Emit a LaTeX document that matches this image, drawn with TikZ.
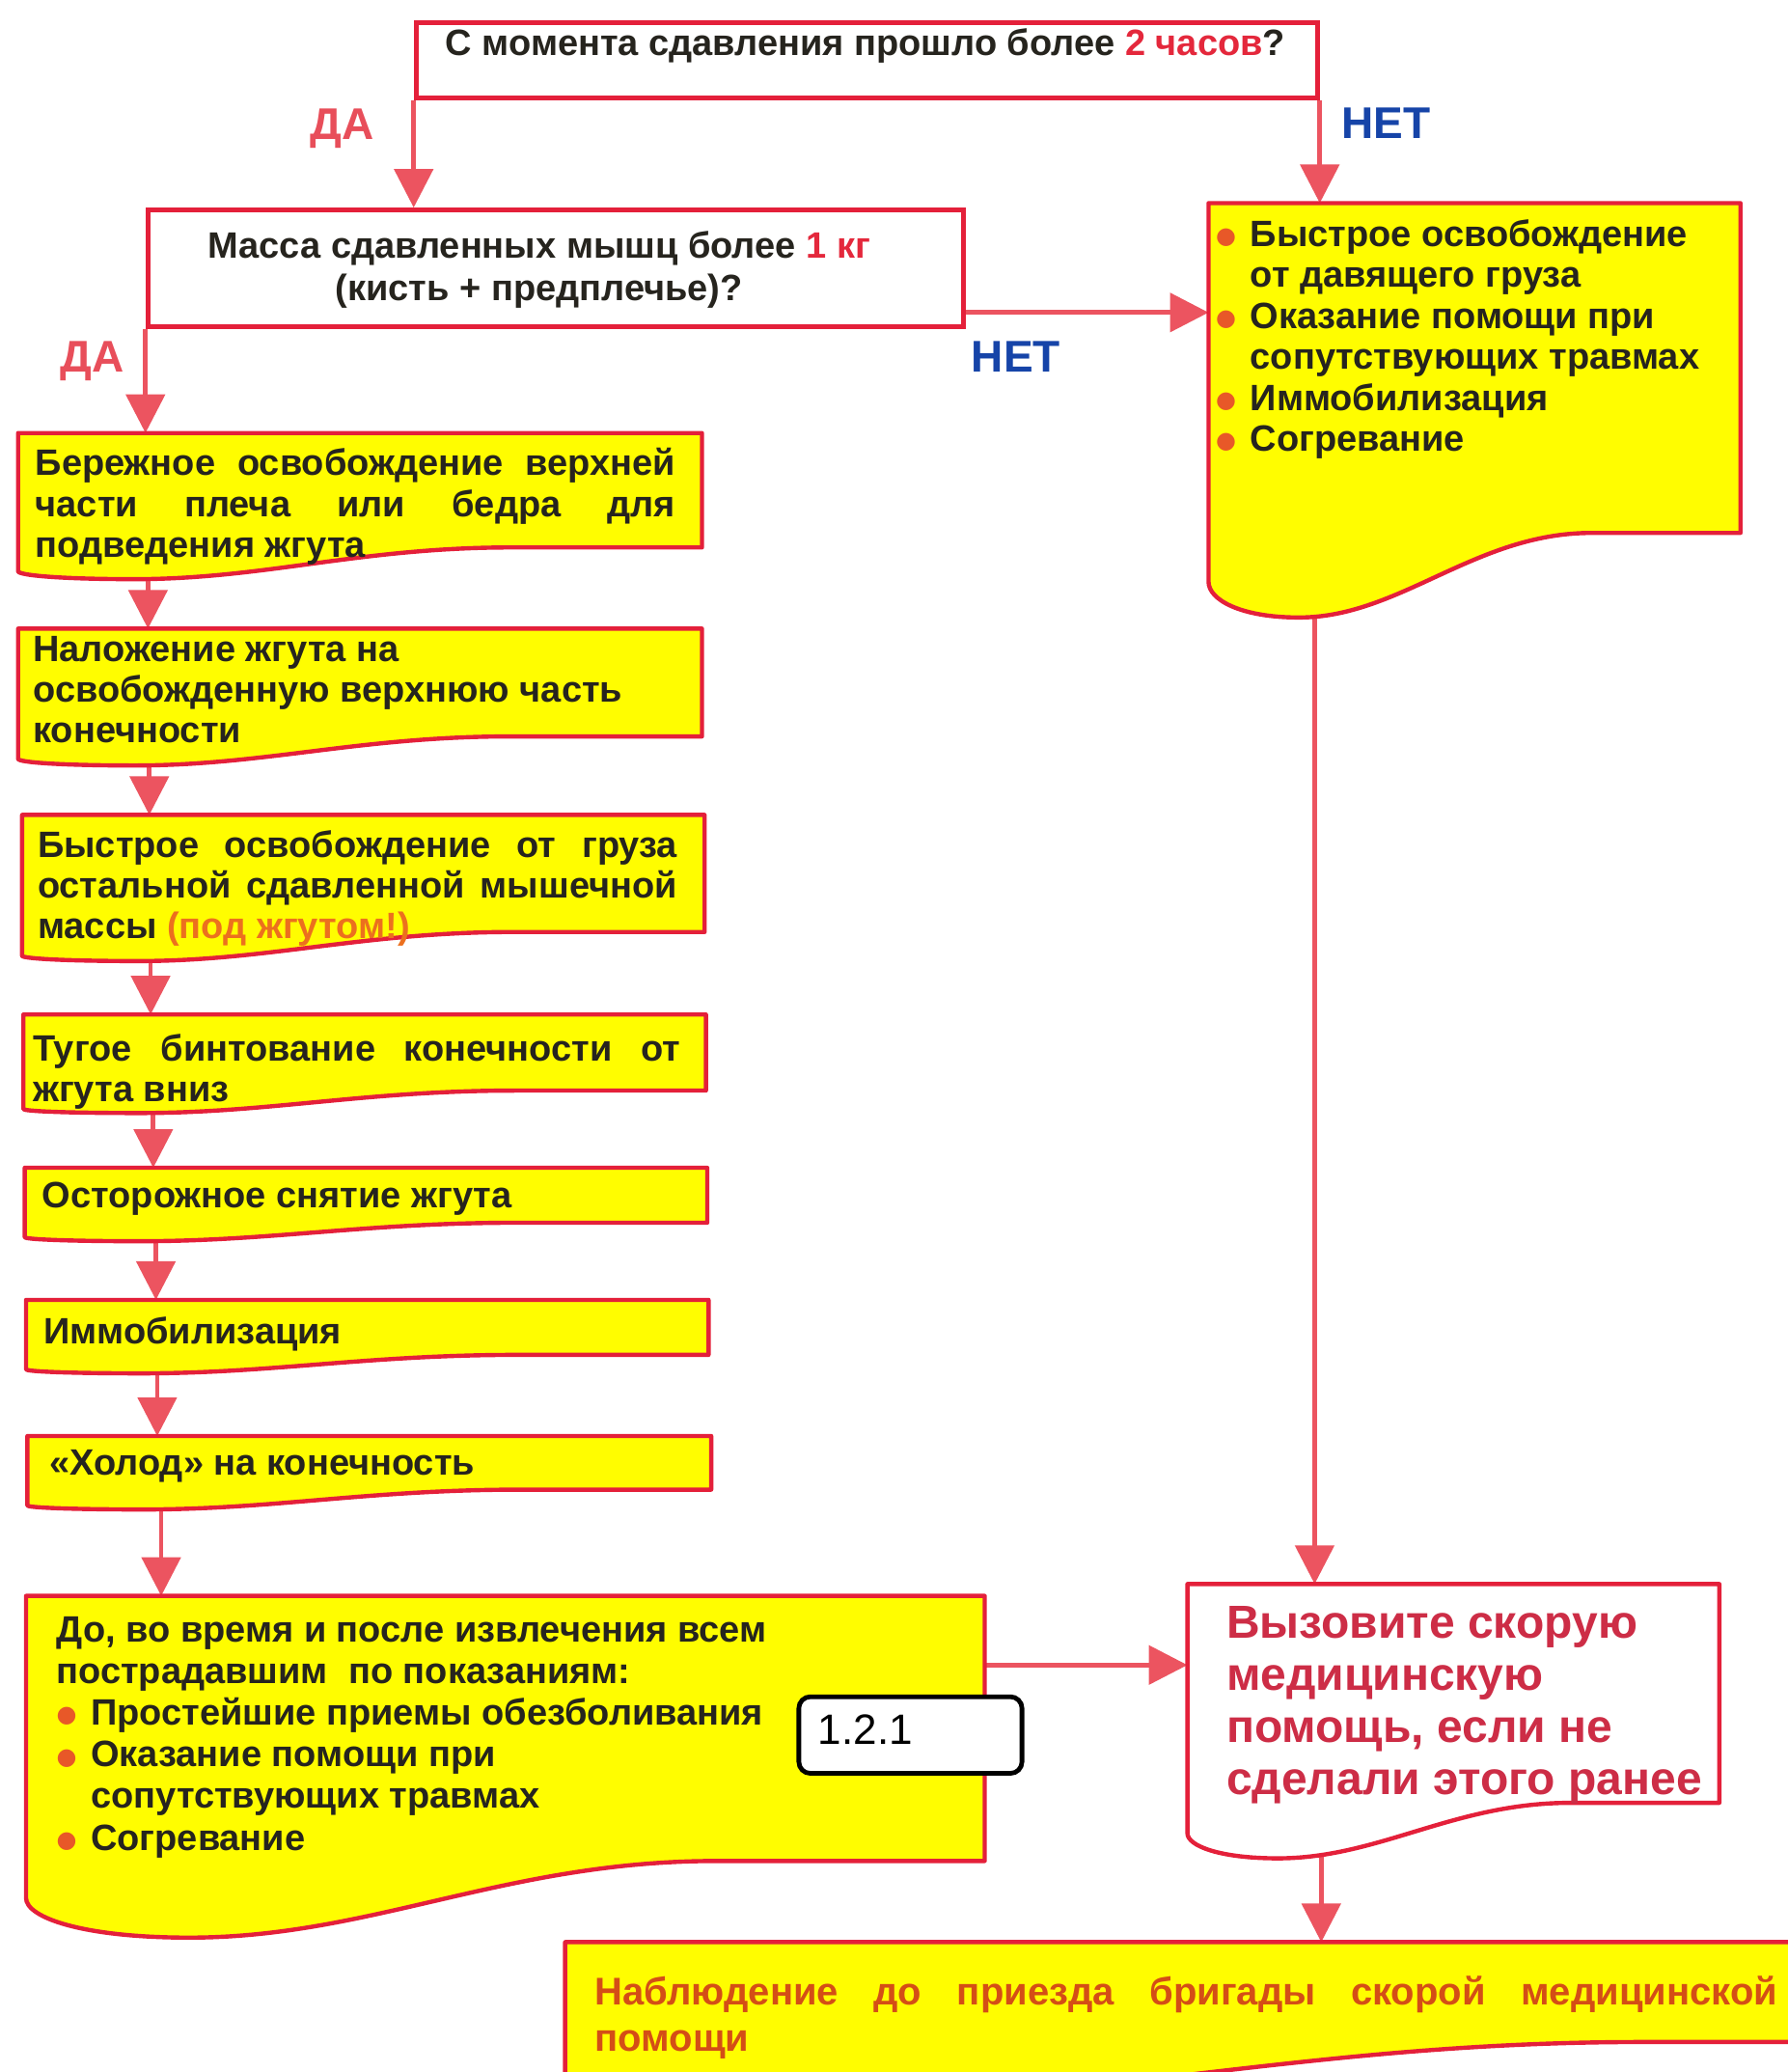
\documentclass[tikz,border=0pt]{standalone}
\usepackage{fontspec}
\setmainfont{Liberation Sans}
\newfontfamily\symfont{DejaVu Sans}
\usetikzlibrary{arrows.meta,calc,fit,backgrounds}
\pgfdeclarelayer{arrowlayer}
\pgfsetlayers{arrowlayer,background,main}
\hyphenpenalty=10000
\exhyphenpenalty=10000
\definecolor{fillyel}{RGB}{255,253,0}
\definecolor{boxred}{RGB}{228,32,58}
\definecolor{arrred}{RGB}{236,84,96}
\definecolor{dared}{RGB}{232,78,90}
\definecolor{netblue}{RGB}{22,68,168}
\definecolor{bulor}{RGB}{232,88,40}
\definecolor{txt}{RGB}{38,36,30}
\definecolor{numred}{RGB}{228,40,60}
\definecolor{orgtxt}{RGB}{236,112,30}
\definecolor{callred}{RGB}{205,45,70}
\definecolor{fintxt}{RGB}{212,78,22}
\newcommand\docshape[4]{%
  \path[draw=boxred, line width=2.2pt, fill=#4, line join=round]
   (#1.north west) -- (#1.north east) -- (#1.south east)
   -- ($(#1.south west)!0.72!(#1.south east)$)
   .. controls ($(#1.south west)!0.5!(#1.south east)$) and ($(#1.south west)!0.36!(#1.south east)+(0,#2)$)
   .. ($(#1.south west)!0.17!(#1.south east)+(0,#2)$)
   .. controls ($(#1.south west)!0.06!(#1.south east)+(0,#2)$) and ($(#1.south west)+(0,{0.5*#2+0.5*#3})$)
   .. ($(#1.south west)+(0,#3)$) -- cycle;}
\newcommand\bul{\makebox[17.8pt][l]{\raisebox{1.3pt}{\textcolor{bulor}{\symfont\fontsize{12}{12}\selectfont ●}}}}
\begin{document}
\begin{tikzpicture}[x=0.6848pt,y=-0.6848pt,
  tx/.style={inner sep=0pt, text=txt, font=\fontsize{19}{21.1}\selectfont\bfseries},
  arr/.style={draw=arrred, line width=2.4pt, -{Triangle[length=20pt,width=20pt]}},
  boxframe/.style={inner sep=0pt},
  plainbox/.style={boxframe, draw=boxred, line width=2.6pt, fill=white},
  yn/.style={inner sep=0pt, font=\fontsize{23}{23}\selectfont\bfseries}]
\useasboundingbox (0,0) rectangle (1353,1568);

% frames
\node[plainbox, fit={(315,17) (997,74)}] (t0) {};
\node[plainbox, fit={(112,159) (729,247)}] (b2) {};
\node[boxframe, fit={(915,154) (1317,403)}] (rbox) {};
\node[boxframe, fit={(14,328) (531,414)}] (b3) {};
\node[boxframe, fit={(14,476) (531,557)}] (b4) {};
\node[boxframe, fit={(17,617) (533,705)}] (b5) {};
\node[boxframe, fit={(18,768) (534,825)}] (b6) {};
\node[boxframe, fit={(19,884) (535,925)}] (b7) {};
\node[boxframe, fit={(20,984) (536,1025)}] (b8) {};
\node[boxframe, fit={(21,1087) (538,1127)}] (b9) {};
\node[boxframe, fit={(20,1208) (745,1408)}] (b10) {};
\node[boxframe, fit={(899,1199) (1301,1364)}] (call) {};
\node[boxframe, fit={(428,1470) (1560,1545)}] (fin) {};

% texts
\node[tx] (t0t) at (655,35) {С момента сдавления прошло более \textcolor{numred}{2 часов}?};
\node[tx, align=center, font=\fontsize{19}{21.9}\selectfont\bfseries] (b2t) at (408,204) {Масса сдавленных мышц более \textcolor{numred}{1 кг}\\(кисть + предплечье)?};
\node[tx, align=left, anchor=north west, font=\fontsize{19}{21.2}\selectfont\bfseries] (rboxt) at (920,166)
 {\bul Быстрое освобождение\\\hspace*{17.8pt}от давящего груза\\\bul Оказание помощи при\\\hspace*{17.8pt}сопутствующих травмах\\\bul Иммобилизация\\\bul Согревание};
\node[tx, text width=331.8pt, align=justify, anchor=north west] (b3t) at (26.5,339)
 {Бережное освобождение верхней\linebreak части плеча или бедра для\linebreak подведения жгута};
\node[tx, align=left, anchor=north west] (b4t) at (24.8,481)
 {Наложение жгута на\\освобожденную верхнюю часть\\конечности};
\node[tx, text width=331.4pt, align=justify, anchor=north west] (b5t) at (28.3,628)
 {Быстрое освобождение от груза\linebreak остальной сдавленной мышечной\linebreak массы \textcolor{orgtxt}{(под жгутом!)}};
\node[tx, text width=335.6pt, align=justify, anchor=north west] (b6t) at (24.7,782)
 {Тугое бинтование конечности от\linebreak жгута вниз};
\node[tx, anchor=north west] (b7t) at (31.8,894) {Осторожное снятие жгута};
\node[tx, anchor=north west] (b8t) at (32.6,996) {Иммобилизация};
\node[tx, anchor=north west] (b9t) at (37.2,1097) {«Холод» на конечность};
\node[tx, align=left, anchor=north west, font=\fontsize{19}{21.6}\selectfont\bfseries] (b10t) at (42.5,1223)
 {До, во время и после извлечения всем\\пострадавшим~~по показаниям:\\\bul Простейшие приемы обезболивания\\\bul Оказание помощи при\\\hspace*{17.8pt}сопутствующих травмах\\\bul Согревание};
\node[boxframe, fit={(604.6,1284) (773.5,1342)}, draw=black, line width=2.4pt, rounded corners=6pt, fill=white] (lbl) {};
\node[inner sep=0pt, anchor=west, font=\fontsize{22}{22}\selectfont] (lblt) at (619,1309) {1.2.1};
\node[tx, align=left, anchor=north west, text=callred, font=\fontsize{24}{27.1}\selectfont\bfseries] (callt) at (928,1215)
 {Вызовите скорую\\медицинскую\\помощь, если не\\сделали этого ранее};
\node[tx, text width=612.9pt, align=justify, anchor=north west, text=fintxt, font=\fontsize{20}{24}\selectfont\bfseries] (fint) at (450,1495)
 {Наблюдение до приезда бригады скорой медицинской\linebreak помощи};

\node[yn, text=dared] (da1) at (259,97) {ДА};
\node[yn, text=netblue] (net1) at (1049,93) {НЕТ};
\node[yn, text=dared] (da2) at (70,273) {ДА};
\node[yn, text=netblue] (net2) at (769,270) {НЕТ};

\begin{pgfonlayer}{background}
\docshape{rbox}{64}{37}{fillyel}
\docshape{b3}{24}{18}{fillyel}
\docshape{b4}{22}{17}{fillyel}
\docshape{b5}{22}{18}{fillyel}
\docshape{b6}{17}{14}{fillyel}
\docshape{b7}{14}{11}{fillyel}
\docshape{b8}{14}{11}{fillyel}
\docshape{b9}{15}{12}{fillyel}
\docshape{b10}{58}{28}{fillyel}
\docshape{call}{42}{23}{white}
\docshape{fin}{45}{30}{fillyel}
\end{pgfonlayer}

\begin{pgfonlayer}{arrowlayer}
\fill[white] (0,0) rectangle (1353,1568);
\coordinate (cR1) at (995,0);
\coordinate (cR2) at (1000,0);
\coordinate (cL3) at (112,0);
\coordinate (cL4) at (113,0);
\coordinate (cL5) at (114,0);
\coordinate (cL6) at (116,0);
\coordinate (cL7) at (118,0);
\coordinate (cL8) at (119,0);
\coordinate (cL9) at (122,0);
\coordinate (h1) at (729,236.5);
\coordinate (h2) at (745,1260);
\draw[arr] (t0.south west) -- (b2.north -| t0.south west);
\draw[arr] (t0.south east) -- (rbox.north -| t0.south east);
\draw[arr] (b2.east |- h1) -- (rbox.west |- h1);
\draw[arr] (b2.south west) -- (b3.north -| b2.south west);
\draw[arr] (b3.south -| cL3) -- (b4.north -| cL3);
\draw[arr] (b4.south -| cL4) -- (b5.north -| cL4);
\draw[arr] (b5.south -| cL5) -- (b6.north -| cL5);
\draw[arr] (b6.south -| cL6) -- (b7.north -| cL6);
\draw[arr] (b7.south -| cL7) -- (b8.north -| cL7);
\draw[arr] (b8.south -| cL8) -- (b9.north -| cL8);
\draw[arr] (b9.south -| cL9) -- (b10.north -| cL9);
\draw[arr] (b10.east |- h2) -- (call.west |- h2);
\draw[arr] (rbox.south -| cR1) -- (call.north -| cR1);
\draw[arr] (call.south -| cR2) -- (fin.north -| cR2);
\end{pgfonlayer}
\end{tikzpicture}
\end{document}
